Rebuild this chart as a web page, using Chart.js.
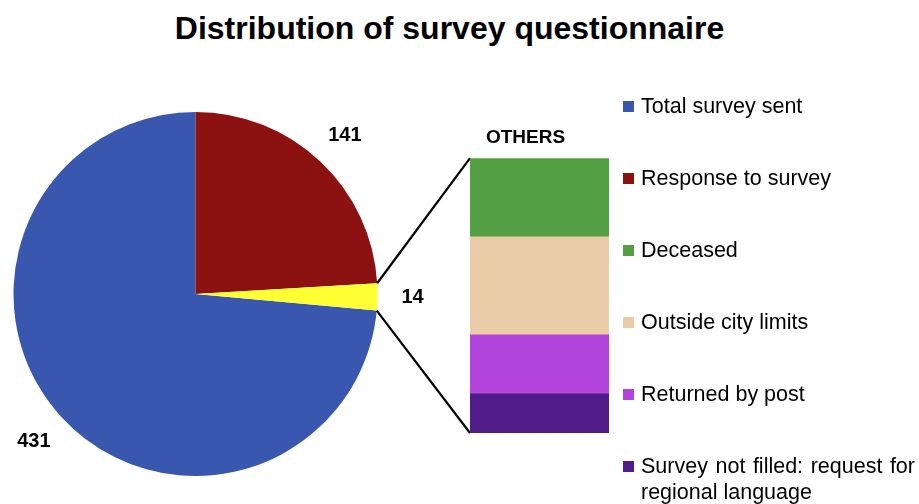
<!DOCTYPE html>
<html>
<head>
<meta charset="utf-8">
<title>Distribution of survey questionnaire</title>
<script src="https://cdn.jsdelivr.net/npm/chart.js@4.4.1/dist/chart.umd.min.js"></script>
<style>
  body { margin: 0; background: #fff; }
  #wrap { position: relative; width: 919px; height: 504px; overflow: hidden;
          font-family: "Liberation Sans", Arial, sans-serif; color: #000; }
  #title { position: absolute; left: 0; top: 9px; width: 899px; text-align: center;
           font-weight: bold; font-size: 32px; line-height: 38px; }
  #pie { position: absolute; left: 0; top: 0; }
  #bar { position: absolute; left: 440px; top: 110px; }
  #legend { position: absolute; left: 623px; top: 93px; width: 292px; }
  .item { display: flex; align-items: flex-start; height: 72px; font-size: 21.5px; line-height: 26px; }
  .sw { width: 11px; height: 11px; margin-top: 8px; margin-right: 7px; flex: none; }
  .txt { width: 274px; text-align: justify; text-align-last: left; }
</style>
</head>
<body>
<div id="wrap">
  <div id="title">Distribution of survey questionnaire</div>
  <canvas id="pie" width="919" height="504"></canvas>
  <canvas id="bar" width="200" height="323"></canvas>
  <div id="legend"></div>
</div>
<script>
// main pie
const pieLabels = ['Total survey sent', 'Response to survey', 'Others'];
const pieValues = [431, 141, 14];
const pieColors = ['#3957AF', '#8C1111', '#FFFF33'];

// breakdown of "Others"
const otherCategory = ['OTHERS'];
const otherLabels = ['Deceased', 'Outside city limits', 'Returned by post', 'Survey not filled: request for regional language'];
const otherValues = [4, 5, 3, 2];
const otherColors = ['#54A045', '#EBCCA8', '#B245DC', '#501C88'];

const FONT = '"Liberation Sans", Arial, sans-serif';
const pieTotal = pieValues.reduce((a, b) => a + b, 0);
const otherTotal = otherValues.reduce((a, b) => a + b, 0);

// legend (pie slices except "Others", then the breakdown)
const legend = document.getElementById('legend');
pieLabels.slice(0, 2).map((l, i) => [l, pieColors[i]])
  .concat(otherLabels.map((l, i) => [l, otherColors[i]]))
  .forEach(([label, color]) => {
    const item = document.createElement('div');
    item.className = 'item';
    item.innerHTML = '<span class="sw" style="background:' + color + '"></span><span class="txt">' + label + '</span>';
    legend.appendChild(item);
  });

const barCanvas = document.getElementById('bar');
const barChart = new Chart(barCanvas, {
  type: 'bar',
  data: {
    labels: otherCategory,
    // first dataset sits at the bottom of the stack
    datasets: otherLabels.map((label, i) => ({
      label: label,
      data: [otherValues[i]],
      backgroundColor: otherColors[i],
      borderWidth: 0,
      barPercentage: 1,
      categoryPercentage: 1
    })).reverse()
  },
  options: {
    responsive: false,
    animation: false,
    layout: { padding: { left: 30, right: 31, top: 7.4, bottom: 0 } },
    plugins: { legend: { display: false }, tooltip: { enabled: false } },
    scales: {
      x: {
        position: 'top',
        stacked: true,
        grid: { display: false, drawTicks: false },
        border: { display: false },
        ticks: { color: '#000', padding: 9, labelOffset: -14, font: { family: FONT, size: 19, weight: 'bold' } }
      },
      y: { display: false, stacked: true, min: 0, max: otherTotal }
    }
  }
});

const pieExtras = {
  id: 'pieExtras',
  afterDatasetsDraw(chart) {
    const ctx = chart.ctx;
    const arcs = chart.getDatasetMeta(0).data;
    ctx.save();
    ctx.font = 'bold 20px ' + FONT;
    ctx.fillStyle = '#000';
    ctx.textAlign = 'center';
    ctx.textBaseline = 'middle';
    // value labels just outside each slice: keep the label box a fixed gap from the rim
    arcs.forEach((a, i) => {
      const text = String(pieValues[i]);
      const mid = (a.startAngle + a.endAngle) / 2;
      const c = Math.abs(Math.cos(mid)), s = Math.abs(Math.sin(mid));
      const hw = ctx.measureText(text).width / 2 + 2, hh = 10;
      const edge = Math.min(c > 1e-6 ? hw / c : Infinity, s > 1e-6 ? hh / s : Infinity);
      const d = a.outerRadius + 22 + edge;
      ctx.fillText(text, a.x + Math.cos(mid) * d, a.y + Math.sin(mid) * d);
    });

    // lines from the "Others" slice to the breakdown bar
    const o = arcs[2];
    const area = barChart.chartArea;
    const left = barCanvas.offsetLeft + area.left;
    const top = barCanvas.offsetTop + area.top;
    const bottom = barCanvas.offsetTop + area.bottom;
    ctx.strokeStyle = '#000';
    ctx.lineWidth = 2.2;
    ctx.beginPath();
    ctx.moveTo(o.x + Math.cos(o.startAngle) * o.outerRadius, o.y + Math.sin(o.startAngle) * o.outerRadius);
    ctx.lineTo(left, top);
    ctx.moveTo(o.x + Math.cos(o.endAngle) * o.outerRadius, o.y + Math.sin(o.endAngle) * o.outerRadius);
    ctx.lineTo(left, bottom);
    ctx.stroke();
    ctx.restore();
  }
};

new Chart(document.getElementById('pie'), {
  type: 'pie',
  data: {
    labels: pieLabels,
    datasets: [{ data: pieValues, backgroundColor: pieColors, borderWidth: 0 }]
  },
  options: {
    responsive: false,
    animation: false,
    // start the first slice so that "Response to survey" begins at 12 o'clock
    rotation: -pieValues[0] / pieTotal * 360,
    layout: { padding: { left: 13, top: 112, right: 541, bottom: 28 } },
    plugins: { legend: { display: false }, tooltip: { enabled: false } }
  },
  plugins: [pieExtras]
});
</script>
</body>
</html>
